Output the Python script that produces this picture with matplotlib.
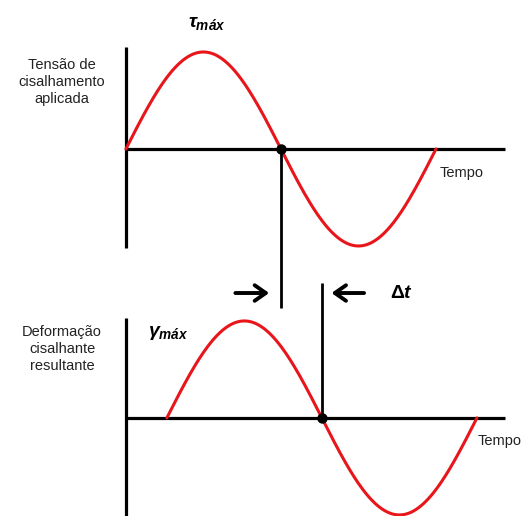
import numpy as np
import matplotlib.pyplot as plt

plt.rcParams['mathtext.fontset'] = 'custom'
plt.rcParams['mathtext.rm'] = 'Liberation Sans:bold'
plt.rcParams['mathtext.it'] = 'Liberation Sans:bold:italic'
plt.rcParams['mathtext.bf'] = 'Liberation Sans:bold'

# Esquema: tensão aplicada x deformação resultante (defasagem Δt)
# tempo em períodos, amplitude normalizada
amplitude = 1.0
wave_start = [0.0, 0.132]        # início de cada onda (períodos)
baseline = [0.0, -2.773]         # posição vertical de cada eixo
axis_top = [1.052, -1.742]       # topo dos eixos verticais
axis_bottom = [-1.021, -3.784]   # base dos eixos verticais
axis_end = 1.223                 # fim dos eixos do tempo
row_labels = ['Tensão de\ncisalhamento\naplicada',
              'Deformação\ncisalhante\nresultante']
peak_labels = [r'$\it{\tau_{máx}}$', r'$\it{\gamma_{máx}}$']
time_label = 'Tempo'

red = '#e8161b'

fig = plt.figure(figsize=(5.25, 5.16), dpi=100)
ax = fig.add_axes([0, 0, 1, 1])
ax.set_xlim(-0.406, 1.287)
ax.set_ylim(-3.784, 1.536)
ax.axis('off')

for i in range(2):
    b = baseline[i]
    # eixos
    ax.plot([0, 0], [axis_top[i], axis_bottom[i]], color='black', lw=2.3,
            solid_capstyle='butt')
    ax.plot([0, axis_end], [b, b], color='black', lw=2.3, solid_capstyle='butt')
    # onda senoidal (um período)
    t = np.linspace(0, 1, 300)
    ax.plot(wave_start[i] + t, b + amplitude * np.sin(2 * np.pi * t),
            color=red, lw=2.2, solid_capstyle='round')
    # ponto no cruzamento do zero
    ax.plot(wave_start[i] + 0.5, b, 'o', color='black', ms=6.5)

    ax.text(-0.206, b + (0.691 if i == 0 else 0.711), row_labels[i],
            ha='center', va='center', fontsize=10.5, family='Liberation Sans',
            color='#222222', linespacing=1.3)

# rótulos de máximos
ax.text(0.261, 1.309, peak_labels[0], ha='center', va='center', fontsize=14)
ax.text(0.071, -1.897, peak_labels[1], ha='left', va='center', fontsize=14)

# rótulos do tempo
ax.text(1.013, -0.247, time_label, ha='left', va='center', fontsize=10.5,
        family='Liberation Sans', color='#222222')
ax.text(1.135, -3.010, time_label, ha='left', va='center', fontsize=10.5,
        family='Liberation Sans', color='#222222')

# linhas verticais de defasagem
lag_top = wave_start[0] + 0.5
lag_bot = wave_start[1] + 0.5
ax.plot([lag_top, lag_top], [baseline[0], -1.64], color='black', lw=2.0,
        solid_capstyle='butt')
ax.plot([lag_bot, lag_bot], [baseline[1], -1.381], color='black', lw=2.0,
        solid_capstyle='butt')

# setas e Δt
arrow_y = -1.485
arrow_kw = dict(arrowstyle='->, head_length=0.5, head_width=0.35', lw=2.8,
                color='black', mutation_scale=16, shrinkA=0, shrinkB=0)
ax.annotate('', xy=(lag_top - 0.038, arrow_y), xytext=(lag_top - 0.147, arrow_y),
            arrowprops=arrow_kw)
ax.annotate('', xy=(lag_bot + 0.031, arrow_y), xytext=(lag_bot + 0.136, arrow_y),
            arrowprops=arrow_kw)
ax.text(0.852, arrow_y, 'Δ', ha='left', va='center', fontsize=14,
        family='Liberation Sans', weight='bold')
ax.text(0.893, arrow_y, 't', ha='left', va='center', fontsize=14,
        family='Liberation Sans', weight='bold', style='italic')

fig.savefig('out.png', dpi=100, facecolor='white')
plt.close(fig)
